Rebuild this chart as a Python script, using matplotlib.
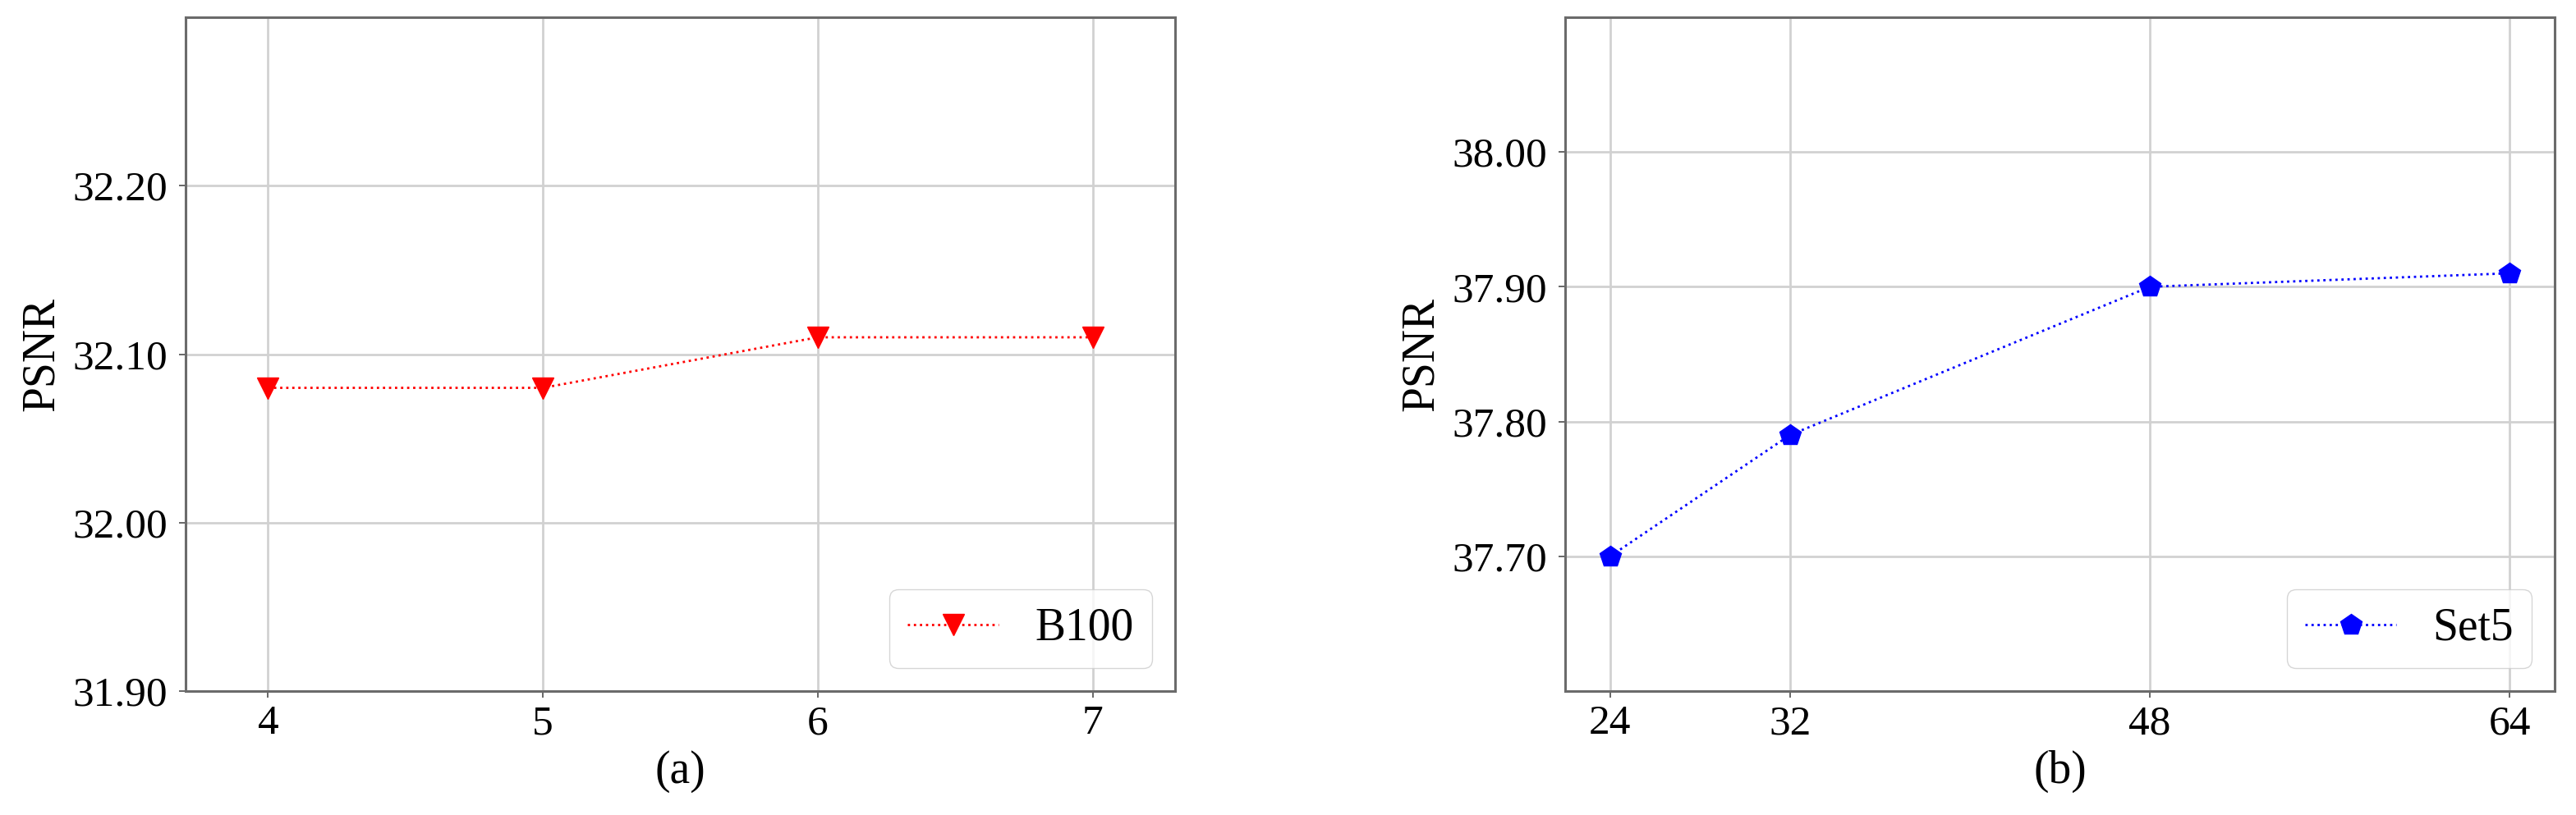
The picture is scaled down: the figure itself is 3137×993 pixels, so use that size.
import matplotlib
matplotlib.use("Agg")
import matplotlib.pyplot as plt

# ## Data ##
depth_x = [4, 5, 6, 7]
depth_psnr_b100 = [32.08, 32.08, 32.11, 32.11]
depth_yticks = [31.90, 32.00, 32.10, 32.20]

width_x = [24, 32, 48, 64]
width_psnr_set5 = [37.70, 37.79, 37.90, 37.91]
width_yticks = [37.70, 37.80, 37.90, 38.00]

plt.rcParams["font.family"] = ["Liberation Serif", "DejaVu Serif"]

FIG_W, FIG_H = 3137, 993
TICK_SIZE = 37
LABEL_SIZE = 40


def style_axes(ax):
    """Grid, spines and ticks as in the reference."""
    ax.grid(True, color="0.82", linewidth=2.0)
    ax.set_axisbelow(True)
    for spine in ax.spines.values():
        spine.set_color("0.42")
        spine.set_linewidth(2.2)
    ax.tick_params(axis="both", length=6, width=1.2, color="0.3",
                   labelsize=TICK_SIZE)
    ax.tick_params(axis="y", pad=10)
    ax.tick_params(axis="x", pad=6)
    ax.yaxis.set_major_formatter(plt.FormatStrFormatter("%.2f"))


def px_rect(left, top, right, bottom):
    """Axes rectangle from pixel edges of the reference image."""
    return [left / FIG_W, 1 - bottom / FIG_H,
            (right - left) / FIG_W, (bottom - top) / FIG_H]


fig = plt.figure(figsize=(FIG_W / 100, FIG_H / 100), dpi=100)

# ## (a) ##
ax1 = fig.add_axes(px_rect(226, 21, 1431, 842))
ax1.plot(depth_x, depth_psnr_b100, linestyle=":", linewidth=2.0, color="red",
         marker="v", markersize=19, label="B100")
ax1.set_xticks(depth_x)
ax1.set_xlim(3.7, 7.3)
ax1.set_yticks(depth_yticks)
ax1.set_ylim(31.9, 32.3)
ax1.set_ylabel("PSNR", fontsize=LABEL_SIZE, labelpad=8)
ax1.set_xlabel("(a)", fontsize=LABEL_SIZE, labelpad=6)
style_axes(ax1)
ax1.legend(loc="lower right", fontsize=LABEL_SIZE)

# ## (b) ##
ax2 = fig.add_axes(px_rect(1906, 21, 3111, 842))
ax2.plot(width_x, width_psnr_set5, linestyle=":", linewidth=2.0, color="blue",
         marker="p", markersize=19, label="Set5")
ax2.set_xticks(width_x)
ax2.set_yticks(width_yticks)
ax2.set_ylim(37.6, 38.1)
ax2.set_ylabel("PSNR", fontsize=LABEL_SIZE, labelpad=8)
ax2.set_xlabel("(b)", fontsize=LABEL_SIZE, labelpad=6)
style_axes(ax2)
ax2.legend(loc="lower right", fontsize=LABEL_SIZE)

fig.savefig("out.png", dpi=100)
